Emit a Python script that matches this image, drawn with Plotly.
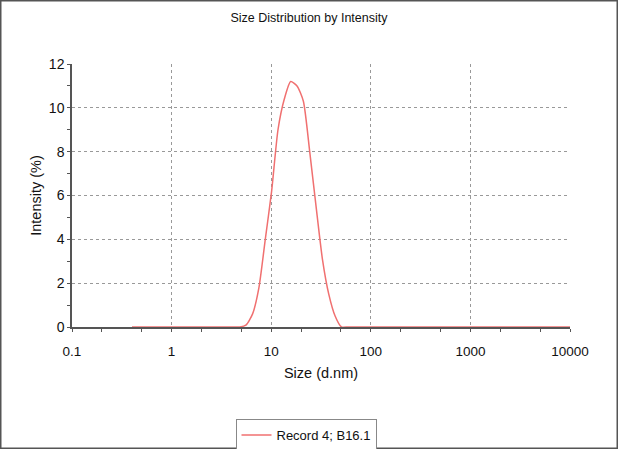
import plotly.graph_objects as go

# size bins (d.nm) and intensity (%)
sizes = [0.4, 0.4632, 0.5365, 0.6213, 0.7195, 0.8332, 0.9649, 1.117, 1.294, 1.499,
         1.736, 2.01, 2.328, 2.696, 3.122, 3.615, 4.187, 4.849, 5.615, 6.503,
         7.531, 8.721, 10.1, 11.7, 13.54, 15.69, 18.17, 21.04, 24.36, 28.21,
         32.67, 37.84, 43.82, 50.75, 58.77, 68.06, 78.82, 91.28, 105.7, 122.4,
         141.8, 164.2, 190.1, 220.2, 255.0, 295.3, 342.0, 396.1, 458.7, 531.2,
         615.1, 712.4, 825.0, 955.4, 1106, 1281, 1484, 1718, 1990, 2305,
         2669, 3091, 3580, 4145, 4801, 5560, 6439, 7456, 8635, 10000]
intensity = [0, 0, 0, 0, 0, 0, 0, 0, 0, 0,
             0, 0, 0, 0, 0, 0, 0, 0, 0.1, 0.6,
             1.8, 4.0, 6.2, 9.0, 10.4, 11.2, 11.0, 10.3, 8.0, 5.5,
             3.1, 1.5, 0.5, 0, 0, 0, 0, 0, 0, 0,
             0, 0, 0, 0, 0, 0, 0, 0, 0, 0,
             0, 0, 0, 0, 0, 0, 0, 0, 0, 0,
             0, 0, 0, 0, 0, 0, 0, 0, 0, 0]

x_ticks = [0.1, 1, 10, 100, 1000, 10000]
x_labels = ["0.1", "1", "10", "100", "1000", "10000"]
y_ticks = [0, 2, 4, 6, 8, 10, 12]

FONT = "Liberation Sans, Arial, sans-serif"
AXIS = "#555555"

fig = go.Figure()
fig.add_trace(go.Scatter(
    x=sizes, y=intensity, mode="lines", name="Record 4; B16.1",
    line=dict(color="#f07070", width=1.5, shape="spline", smoothing=0.6),
))

fig.update_layout(
    width=618, height=449,
    margin=dict(l=72, r=48, t=64, b=122),
    paper_bgcolor="white", plot_bgcolor="white",
    font=dict(family=FONT, color="#111111"),
    title=dict(text="Size Distribution by Intensity", x=0.5, xref="container",
               y=1 - 18 / 449, yref="container", yanchor="middle",
               font=dict(size=12.5, family=FONT, color="#111111")),
    showlegend=True,
    legend=dict(orientation="h", xref="container", yref="container",
                x=306 / 618, xanchor="center", y=1 - 419 / 449, yanchor="top",
                bordercolor="#888888", borderwidth=1, font=dict(size=13, family=FONT)),
)
# frame round the whole picture
fig.add_shape(type="rect", xref="paper", yref="paper",
              x0=-72 / 498, x1=1 + 48 / 498, y0=-122 / 263, y1=1 + 64 / 263,
              line=dict(color="#555555", width=3))

fig.update_xaxes(
    type="log", range=[-1, 4],
    tickvals=x_ticks, ticktext=x_labels,
    tickfont=dict(size=13.5, family=FONT, color="#111111"),
    ticklabelstandoff=8,
    title=dict(text="Size (d.nm)", font=dict(size=14.5, family=FONT), standoff=10),
    showline=True, linecolor=AXIS, linewidth=1.5,
    ticks="outside", ticklen=3, tickcolor=AXIS,
    showgrid=True, gridcolor="#999999", griddash="dot", gridwidth=1,
    minor=dict(ticks="outside", ticklen=3, tickcolor=AXIS, showgrid=False),
    zeroline=False,
)
fig.update_yaxes(
    range=[0, 12], tickvals=y_ticks,
    tickfont=dict(size=14, family=FONT, color="#111111"),
    title=dict(text="Intensity (%)", font=dict(size=14.5, family=FONT), standoff=4),
    showline=True, linecolor=AXIS, linewidth=1.5,
    ticks="outside", ticklen=3, tickcolor=AXIS,
    showgrid=True, gridcolor="#999999", griddash="dot", gridwidth=1,
    minor=dict(ticks="outside", ticklen=3, tickcolor=AXIS, dtick=1, showgrid=False),
    zeroline=False,
)

fig.write_html("out.html", config={"displayModeBar": False},
               post_script="document.body.style.margin='0';")
